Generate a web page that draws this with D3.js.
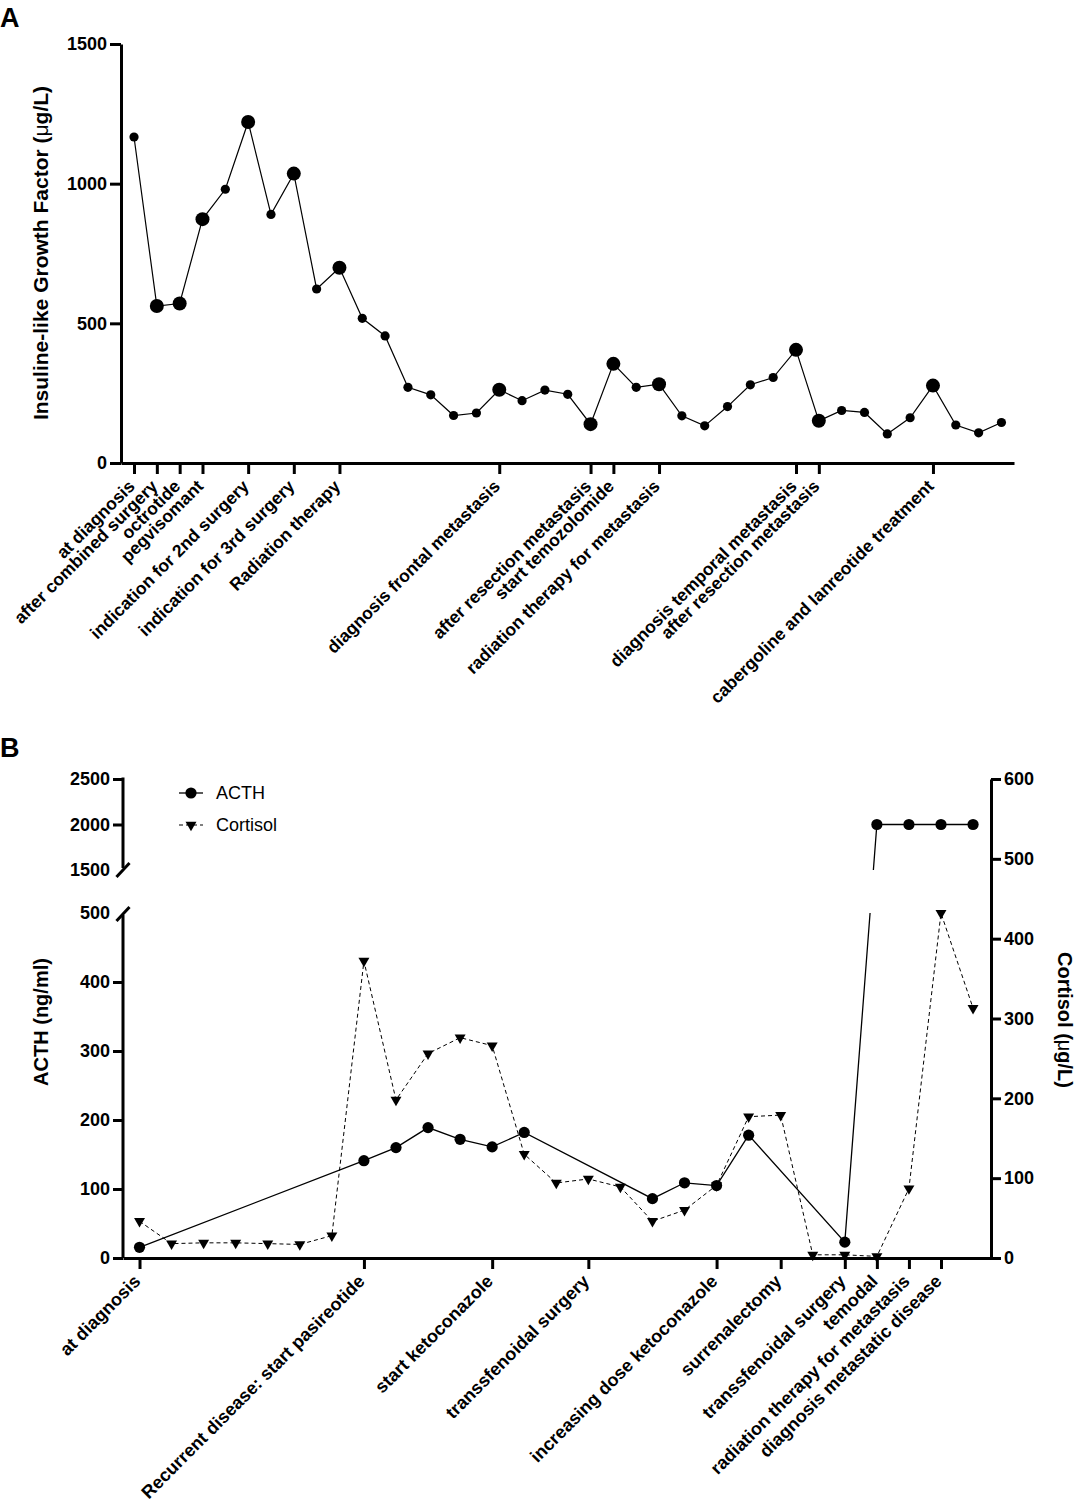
<!DOCTYPE html>
<html>
<head>
<meta charset="utf-8">
<script src="https://cdn.jsdelivr.net/npm/d3@7"></script>
<style>
  body { margin: 0; background: #fff; }
</style>
</head>
<body>
<script>
var FONT = "Liberation Sans, Arial, Helvetica, sans-serif";

// ---- panel A: IGF-1 over time ----
var igf = [1167, 562, 571, 873, 980, 1221, 890, 1036, 623, 699,
           518, 455, 271, 244, 170, 179, 262, 223, 261, 246,
           139, 355, 271, 282, 169, 133, 202, 280, 306, 405,
           151, 188, 181, 104, 162, 277, 136, 108, 145];
var eventsA = [0, 1, 2, 3, 5, 7, 9, 16, 20, 21, 23, 29, 30, 35];
var labelsA = ["at diagnosis", "after combined surgery", "octrotide", "pegvisomant",
               "indication for 2nd surgery", "indication for 3rd surgery", "Radiation therapy",
               "diagnosis frontal metastasis", "after resection metastasis", "start temozolomide",
               "radiation therapy for metastasis", "diagnosis temporal metastasis",
               "after resection metastasis", "cabergoline and lanreotide treatment"];
var ticksA = [0, 500, 1000, 1500];

// ---- panel B: ACTH and cortisol ----
var acthIdx = [0, 7, 8, 9, 10, 11, 12, 16, 17, 18, 19, 22, 23, 24, 25, 26];
var acth = [15.5, 141, 160, 189, 172, 161, 182, 86, 109, 105, 178, 23, 2000, 2000, 2000, 2000];
var cortisol = [46, 18, 19, 19, 18, 17, 28, 372, 198, 256, 276, 266, 130, 94, 99, 89,
                46, 60, 91, 177, 179, 4, 4, 2, 87, 432, 313];
var eventsB = [0, 7, 11, 14, 18, 20, 22, 23, 24, 25];
var labelsB = ["at diagnosis", "Recurrent disease: start pasireotide", "start ketoconazole",
               "transsfenoidal surgery", "increasing dose ketoconazole", "surrenalectomy",
               "transsfenoidal surgery", "temodal", "radiation therapy for metastasis",
               "diagnosis metastatic disease"];
var ticksACTH = [0, 100, 200, 300, 400, 500, 1500, 2000, 2500];
var ticksCort = [0, 100, 200, 300, 400, 500, 600];

var svg = d3.select("body").append("svg")
    .attr("width", 1075)
    .attr("height", 1508);

function styleAxis(g, fs) {
    g.attr("font-family", FONT).attr("font-size", fs || 18).attr("font-weight", "bold");
    g.selectAll("path, line").attr("stroke", "#000").attr("stroke-width", 3);
    g.selectAll("text").attr("fill", "#000");
}

function rotateLabels(g) {
    g.selectAll(".tick text")
        .attr("x", 0).attr("y", 0)
        .attr("dy", "0.35em")
        .attr("text-anchor", "end")
        .attr("transform", "translate(-3,20) rotate(-45)");
}

var fmt = d3.format("d");

// ================= Panel A =================
var xA = d3.scaleLinear().domain([-0.57, 38.55]).range([121, 1014]);
var yA = d3.scaleLinear().domain([0, 1500]).range([463, 44]);

svg.append("text").attr("x", 0).attr("y", 27)
    .attr("font-family", FONT).attr("font-weight", "bold").attr("font-size", 27)
    .text("A");

var line = d3.line()
    .x(function(d, i) { return xA(i); })
    .y(function(d) { return yA(d); });

svg.append("path")
    .datum(igf)
    .attr("d", line)
    .attr("fill", "none")
    .attr("stroke", "#000")
    .attr("stroke-width", 1.2);

svg.selectAll(".dotA")
    .data(igf)
    .enter().append("circle")
    .attr("class", "dotA")
    .attr("cx", function(d, i) { return xA(i); })
    .attr("cy", function(d) { return yA(d); })
    .attr("r", function(d, i) { return (i > 0 && eventsA.indexOf(i) >= 0) ? 7 : 4.6; })
    .attr("fill", "#000");

var gyA = svg.append("g")
    .attr("transform", "translate(121,0)")
    .call(d3.axisLeft(yA).tickValues(ticksA).tickFormat(fmt)
        .tickSize(11).tickSizeOuter(0).tickPadding(3));
styleAxis(gyA);

var gxA = svg.append("g")
    .attr("transform", "translate(0,463)")
    .call(d3.axisBottom(xA).tickValues(eventsA).tickSize(11).tickSizeOuter(0)
        .tickFormat(function(d) { return labelsA[eventsA.indexOf(d)]; }));
styleAxis(gxA, 17.5);
rotateLabels(gxA);

var titleA = svg.append("text")
    .attr("transform", "translate(48,253) rotate(-90)")
    .attr("text-anchor", "middle")
    .attr("font-family", FONT).attr("font-weight", "bold").attr("font-size", 21);
titleA.append("tspan").text("Insuline-like Growth Factor (");
titleA.append("tspan").attr("font-weight", "normal").text("\u03bc");
titleA.append("tspan").text("g/L)");

// ================= Panel B =================
var xB = d3.scaleLinear().domain([-0.515, 26.56]).range([123, 991]);
// broken left axis: 0-500 below, 1500-2500 above
var yL = d3.scaleLinear().domain([0, 500, 1500, 2500]).range([1258, 913, 870, 779]);
var yR = d3.scaleLinear().domain([0, 600]).range([1258, 779]);

svg.append("text").attr("x", 0).attr("y", 757)
    .attr("font-family", FONT).attr("font-weight", "bold").attr("font-size", 27)
    .text("B");

// clip out the axis break band for the ACTH line
var clip = svg.append("clipPath").attr("id", "gapclip");
clip.append("rect").attr("x", 0).attr("y", 0).attr("width", 1075).attr("height", yL(1500));
clip.append("rect").attr("x", 0).attr("y", yL(500)).attr("width", 1075).attr("height", 600);

var cortLine = d3.line()
    .x(function(d, i) { return xB(i); })
    .y(function(d) { return yR(d); });

svg.append("path")
    .datum(cortisol)
    .attr("d", cortLine)
    .attr("fill", "none")
    .attr("stroke", "#000")
    .attr("stroke-width", 1)
    .attr("stroke-dasharray", "4,3");

var acthLine = d3.line()
    .x(function(d) { return xB(d[0]); })
    .y(function(d) { return yL(d[1]); });

var acthPts = acthIdx.map(function(d, i) { return [d, acth[i]]; });

svg.append("path")
    .datum(acthPts)
    .attr("d", acthLine)
    .attr("clip-path", "url(#gapclip)")
    .attr("fill", "none")
    .attr("stroke", "#000")
    .attr("stroke-width", 1.3);

var tri = d3.symbol().type(d3.symbolTriangle).size(52);

svg.selectAll(".tri")
    .data(cortisol)
    .enter().append("path")
    .attr("class", "tri")
    .attr("d", tri)
    .attr("transform", function(d, i) {
        return "translate(" + xB(i) + "," + yR(d) + ") rotate(180)"; })
    .attr("fill", "#000");

svg.selectAll(".dotB")
    .data(acthPts)
    .enter().append("circle")
    .attr("class", "dotB")
    .attr("cx", function(d) { return xB(d[0]); })
    .attr("cy", function(d) { return yL(d[1]); })
    .attr("r", 5.6)
    .attr("fill", "#000");

// left axis
var gyL = svg.append("g")
    .attr("transform", "translate(123,0)")
    .call(d3.axisLeft(yL).tickValues(ticksACTH).tickFormat(fmt)
        .tickSize(10).tickSizeOuter(0).tickPadding(3));
gyL.select(".domain").remove();
gyL.selectAll(".tick").filter(function(d) { return d === 500 || d === 1500; })
    .select("line").remove();
styleAxis(gyL);
gyL.append("line").attr("x1", 0).attr("x2", 0).attr("y1", yL(2500) - 1.5).attr("y2", yL(1500) - 2);
gyL.append("line").attr("x1", 0).attr("x2", 0).attr("y1", yL(500) + 2).attr("y2", yL(0));
[1500, 500].forEach(function(v) {
    var yy = yL(v) + (v === 1500 ? 0 : 1);
    gyL.append("line")
        .attr("x1", -6.5).attr("y1", yy + 7)
        .attr("x2", 6.5).attr("y2", yy - 7);
});
gyL.selectAll("line").attr("stroke", "#000").attr("stroke-width", 3);

// right axis
var gyR = svg.append("g")
    .attr("transform", "translate(991,0)")
    .call(d3.axisRight(yR).tickValues(ticksCort).tickFormat(fmt)
        .tickSize(10).tickSizeOuter(0).tickPadding(3));
styleAxis(gyR);

// bottom axis
var gxB = svg.append("g")
    .attr("transform", "translate(0,1258)")
    .call(d3.axisBottom(xB).tickValues(eventsB).tickSize(11).tickSizeOuter(0)
        .tickFormat(function(d) { return labelsB[eventsB.indexOf(d)]; }));
styleAxis(gxB);
rotateLabels(gxB);

svg.append("text")
    .attr("transform", "translate(48,1022) rotate(-90)")
    .attr("text-anchor", "middle")
    .attr("font-family", FONT).attr("font-weight", "bold").attr("font-size", 20)
    .text("ACTH (ng/ml)");

var titleR = svg.append("text")
    .attr("transform", "translate(1058,1020) rotate(90)")
    .attr("text-anchor", "middle")
    .attr("font-family", FONT).attr("font-weight", "bold").attr("font-size", 20);
titleR.append("tspan").text("Cortisol (");
titleR.append("tspan").attr("font-weight", "normal").text("\u03bc");
titleR.append("tspan").text("g/L)");

// legend
var legend = svg.append("g").attr("font-family", FONT).attr("font-size", 18);
legend.append("line").attr("x1", 179).attr("x2", 203).attr("y1", 793).attr("y2", 793)
    .attr("stroke", "#000").attr("stroke-width", 1.3);
legend.append("circle").attr("cx", 191).attr("cy", 793).attr("r", 5.6).attr("fill", "#000");
legend.append("text").attr("x", 216).attr("y", 793).attr("dy", "0.35em").text("ACTH");
legend.append("line").attr("x1", 179).attr("x2", 203).attr("y1", 825).attr("y2", 825)
    .attr("stroke", "#000").attr("stroke-width", 1).attr("stroke-dasharray", "4,3");
legend.append("path").attr("d", tri)
    .attr("transform", "translate(191,825) rotate(180)").attr("fill", "#000");
legend.append("text").attr("x", 216).attr("y", 825).attr("dy", "0.35em").text("Cortisol");
</script>
</body>
</html>
